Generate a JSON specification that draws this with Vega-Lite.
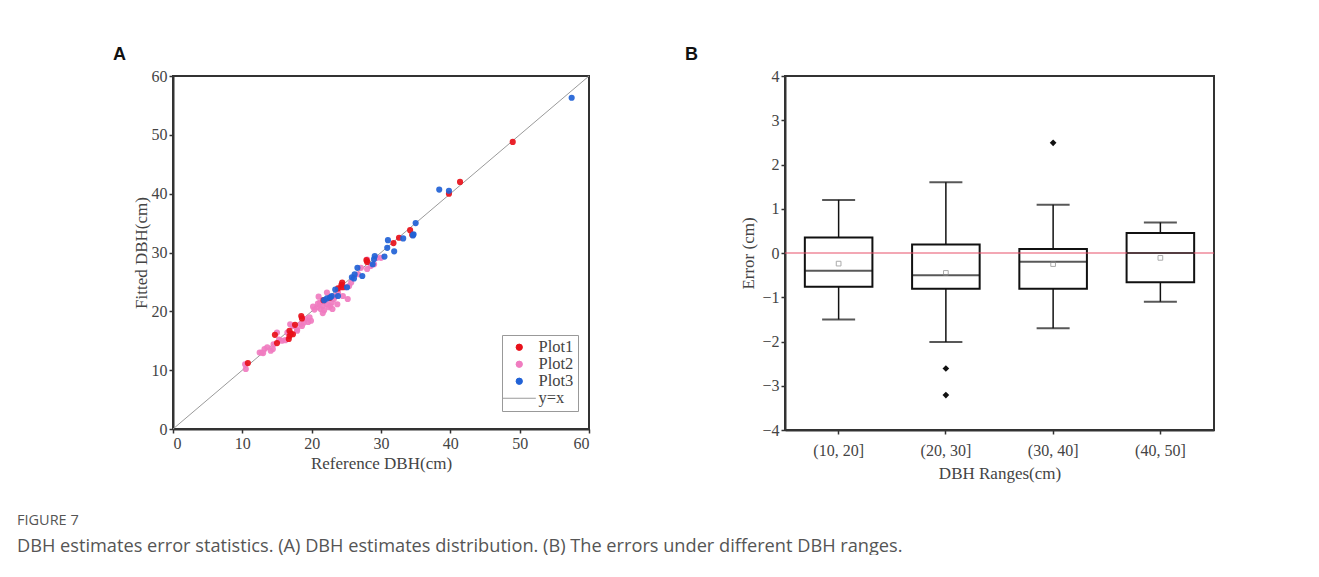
{
  "$schema": "https://vega.github.io/schema/vega-lite/v6.json",
  "padding": {"left": 17, "top": 45, "right": 0, "bottom": 0},
  "background": "white",
  "title": {
    "text": "FIGURE 7",
    "subtitle": "DBH estimates error statistics. (A) DBH estimates distribution. (B) The errors under different DBH ranges.",
    "orient": "bottom",
    "anchor": "start",
    "frame": "group",
    "dx": -156,
    "offset": 32,
    "font": "Open Sans",
    "fontSize": 14.5,
    "fontWeight": "normal",
    "color": "#555555",
    "subtitleFont": "Open Sans",
    "subtitleFontSize": 18.2,
    "subtitleColor": "#555555",
    "subtitlePadding": 9
  },
  "config": {
    "view": {"stroke": "#333333", "strokeWidth": 2},
    "axis": {
      "grid": false,
      "domainColor": "#333333",
      "domainWidth": 2,
      "tickColor": "#333333",
      "tickSize": 4,
      "tickWidth": 1.5,
      "labelFont": "Liberation Serif",
      "labelFontSize": 16,
      "labelColor": "#444444",
      "titleFont": "Liberation Serif",
      "titleFontSize": 17,
      "titleFontWeight": "normal",
      "titleColor": "#444444"
    }
  },
  "spacing": 92,
  "hconcat": [
    {
      "width": 416,
      "height": 353,
      "title": {"text": "A", "anchor": "start", "frame": "group", "dx": -60, "offset": 4, "font": "Liberation Sans", "fontSize": 18, "fontWeight": "bold", "color": "#111111"},
      "layer": [
        {
          "data": {"values": [{"v": 0, "plot": "y=x"}, {"v": 60, "plot": "y=x"}]},
          "mark": {"type": "line", "strokeWidth": 1},
          "encoding": {
            "x": {"field": "v", "type": "quantitative"},
            "y": {"field": "v", "type": "quantitative"},
            "color": {"field": "plot", "type": "nominal"}
          }
        },
        {
          "data": {"values": [
            {"plot": "Plot2", "ref": 10.5, "fit": 10.2}, {"plot": "Plot2", "ref": 10.4, "fit": 11.0}, {"plot": "Plot2", "ref": 12.8, "fit": 13.0}, {"plot": "Plot2", "ref": 13.2, "fit": 13.6}, {"plot": "Plot2", "ref": 13.6, "fit": 13.9}, {"plot": "Plot2", "ref": 14.1, "fit": 13.3}, {"plot": "Plot2", "ref": 14.4, "fit": 13.6}, {"plot": "Plot2", "ref": 15.0, "fit": 16.4}, {"plot": "Plot2", "ref": 15.7, "fit": 15.0}, {"plot": "Plot2", "ref": 16.2, "fit": 15.1}, {"plot": "Plot2", "ref": 16.9, "fit": 17.8}, {"plot": "Plot2", "ref": 17.9, "fit": 16.9}, {"plot": "Plot2", "ref": 18.4, "fit": 17.8}, {"plot": "Plot2", "ref": 18.9, "fit": 18.1}, {"plot": "Plot2", "ref": 19.1, "fit": 18.7}, {"plot": "Plot2", "ref": 19.7, "fit": 19.0}, {"plot": "Plot2", "ref": 19.9, "fit": 18.4}, {"plot": "Plot2", "ref": 20.2, "fit": 20.8}, {"plot": "Plot2", "ref": 20.8, "fit": 20.7}, {"plot": "Plot2", "ref": 21.0, "fit": 22.5}, {"plot": "Plot2", "ref": 21.3, "fit": 20.4}, {"plot": "Plot2", "ref": 21.6, "fit": 20.9}, {"plot": "Plot2", "ref": 21.8, "fit": 20.2}, {"plot": "Plot2", "ref": 22.2, "fit": 21.2}, {"plot": "Plot2", "ref": 22.5, "fit": 20.7}, {"plot": "Plot2", "ref": 22.7, "fit": 20.9}, {"plot": "Plot2", "ref": 22.9, "fit": 21.5}, {"plot": "Plot2", "ref": 22.2, "fit": 23.2}, {"plot": "Plot2", "ref": 23.2, "fit": 22.1}, {"plot": "Plot2", "ref": 23.7, "fit": 21.2}, {"plot": "Plot2", "ref": 23.8, "fit": 23.2}, {"plot": "Plot2", "ref": 24.5, "fit": 22.6}, {"plot": "Plot2", "ref": 25.2, "fit": 22.1}, {"plot": "Plot2", "ref": 25.4, "fit": 24.3}, {"plot": "Plot2", "ref": 25.7, "fit": 24.9}, {"plot": "Plot2", "ref": 27.1, "fit": 27.4}, {"plot": "Plot2", "ref": 28.0, "fit": 27.2}, {"plot": "Plot2", "ref": 28.5, "fit": 27.7}, {"plot": "Plot2", "ref": 29.0, "fit": 28.0}, {"plot": "Plot2", "ref": 29.4, "fit": 29.1}, {"plot": "Plot2", "ref": 30.0, "fit": 29.1}, {"plot": "Plot2", "ref": 28.0, "fit": 28.8}, {"plot": "Plot2", "ref": 12.5, "fit": 13.0}, {"plot": "Plot2", "ref": 14.5, "fit": 14.4}, {"plot": "Plot2", "ref": 16.5, "fit": 16.4}, {"plot": "Plot2", "ref": 17.3, "fit": 17.5}, {"plot": "Plot2", "ref": 17.9, "fit": 16.7}, {"plot": "Plot2", "ref": 18.6, "fit": 17.5}, {"plot": "Plot2", "ref": 19.5, "fit": 18.2}, {"plot": "Plot2", "ref": 20.4, "fit": 20.3}, {"plot": "Plot2", "ref": 21.2, "fit": 21.5}, {"plot": "Plot2", "ref": 21.6, "fit": 19.7}, {"plot": "Plot2", "ref": 22.0, "fit": 21.8}, {"plot": "Plot2", "ref": 23.0, "fit": 20.4}, {"plot": "Plot2", "ref": 23.4, "fit": 22.6}, {"plot": "Plot2", "ref": 24.2, "fit": 24.1}, {"plot": "Plot2", "ref": 24.9, "fit": 24.1}, {"plot": "Plot2", "ref": 26.7, "fit": 26.3}, {"plot": "Plot2", "ref": 13.0, "fit": 12.9}, {"plot": "Plot2", "ref": 15.3, "fit": 15.2}, {"plot": "Plot2", "ref": 20.9, "fit": 21.3},
            {"plot": "Plot1", "ref": 10.8, "fit": 11.2}, {"plot": "Plot1", "ref": 14.7, "fit": 16.0}, {"plot": "Plot1", "ref": 15.0, "fit": 14.6}, {"plot": "Plot1", "ref": 16.7, "fit": 15.3}, {"plot": "Plot1", "ref": 16.8, "fit": 16.7}, {"plot": "Plot1", "ref": 16.8, "fit": 15.8}, {"plot": "Plot1", "ref": 17.0, "fit": 16.2}, {"plot": "Plot1", "ref": 17.3, "fit": 16.1}, {"plot": "Plot1", "ref": 17.6, "fit": 17.7}, {"plot": "Plot1", "ref": 18.5, "fit": 19.2}, {"plot": "Plot1", "ref": 18.6, "fit": 18.8}, {"plot": "Plot1", "ref": 21.7, "fit": 21.9}, {"plot": "Plot1", "ref": 24.3, "fit": 24.5}, {"plot": "Plot1", "ref": 24.4, "fit": 24.9}, {"plot": "Plot1", "ref": 24.5, "fit": 24.1}, {"plot": "Plot1", "ref": 28.0, "fit": 28.4}, {"plot": "Plot1", "ref": 31.8, "fit": 31.6}, {"plot": "Plot1", "ref": 32.6, "fit": 32.5}, {"plot": "Plot1", "ref": 34.2, "fit": 33.8}, {"plot": "Plot1", "ref": 34.5, "fit": 33.0}, {"plot": "Plot1", "ref": 39.8, "fit": 40.0}, {"plot": "Plot1", "ref": 41.4, "fit": 42.0}, {"plot": "Plot1", "ref": 49.0, "fit": 48.8}, {"plot": "Plot1", "ref": 23.8, "fit": 23.9}, {"plot": "Plot1", "ref": 27.9, "fit": 28.7}, {"plot": "Plot1", "ref": 22.6, "fit": 22.3},
            {"plot": "Plot3", "ref": 21.8, "fit": 21.9}, {"plot": "Plot3", "ref": 22.2, "fit": 22.2}, {"plot": "Plot3", "ref": 22.7, "fit": 22.4}, {"plot": "Plot3", "ref": 22.9, "fit": 22.6}, {"plot": "Plot3", "ref": 23.4, "fit": 23.7}, {"plot": "Plot3", "ref": 23.8, "fit": 22.6}, {"plot": "Plot3", "ref": 25.1, "fit": 24.1}, {"plot": "Plot3", "ref": 25.8, "fit": 25.8}, {"plot": "Plot3", "ref": 26.2, "fit": 26.3}, {"plot": "Plot3", "ref": 26.1, "fit": 25.6}, {"plot": "Plot3", "ref": 26.6, "fit": 27.4}, {"plot": "Plot3", "ref": 27.3, "fit": 26.0}, {"plot": "Plot3", "ref": 28.8, "fit": 28.0}, {"plot": "Plot3", "ref": 29.0, "fit": 28.9}, {"plot": "Plot3", "ref": 29.1, "fit": 29.4}, {"plot": "Plot3", "ref": 30.5, "fit": 29.3}, {"plot": "Plot3", "ref": 30.9, "fit": 30.8}, {"plot": "Plot3", "ref": 31.0, "fit": 32.1}, {"plot": "Plot3", "ref": 31.9, "fit": 30.2}, {"plot": "Plot3", "ref": 33.2, "fit": 32.4}, {"plot": "Plot3", "ref": 34.7, "fit": 33.1}, {"plot": "Plot3", "ref": 35.0, "fit": 35.0}, {"plot": "Plot3", "ref": 38.4, "fit": 40.7}, {"plot": "Plot3", "ref": 39.8, "fit": 40.5}, {"plot": "Plot3", "ref": 57.5, "fit": 56.3}, {"plot": "Plot3", "ref": 34.6, "fit": 32.9}
          ]},
          "mark": {"type": "circle", "size": 38, "opacity": 0.92},
          "encoding": {
            "x": {"field": "ref", "type": "quantitative", "scale": {"domain": [0, 60], "nice": false}, "axis": {"values": [0, 10, 20, 30, 40, 50, 60], "title": "Reference DBH(cm)", "titlePadding": 4}},
            "y": {"field": "fit", "type": "quantitative", "scale": {"domain": [0, 60], "nice": false}, "axis": {"values": [0, 10, 20, 30, 40, 50, 60], "title": "Fitted DBH(cm)", "titlePadding": 1}},
            "color": {
              "field": "plot",
              "type": "nominal",
              "scale": {"domain": ["Plot1", "Plot2", "Plot3", "y=x"], "range": ["#e8101a", "#f07cc0", "#2162d6", "#9a9a9a"]},
              "legend": {
                "title": null,
                "orient": "none",
                "legendX": 329,
                "legendY": 259,
                "strokeColor": "#999999",
                "fillColor": "white",
                "padding": 4,
                "symbolSize": 900,
                "symbolOffset": 5,
                "labelOffset": 11,
                "labelFont": "Liberation Serif",
                "labelFontSize": 16.5,
                "labelColor": "#444444",
                "rowPadding": 0,
                "encoding": {
                  "symbols": {
                    "shape": {"value": {"expr": "datum.value === 'y=x' ? 'stroke' : 'circle'"}},
                    "size": {"value": {"expr": "datum.value === 'y=x' ? 1100 : 40"}},
                    "stroke": {"value": {"expr": "datum.value === 'y=x' ? '#9a9a9a' : 'transparent'"}},
                    "strokeWidth": {"value": 1},
                    "fill": {"value": {"expr": "datum.value === 'Plot1' ? '#e8101a' : datum.value === 'Plot2' ? '#f07cc0' : datum.value === 'Plot3' ? '#2162d6' : 'transparent'"}},
                    "opacity": {"value": 1}
                  }
                }
              }
            }
          }
        }
      ]
    },
    {
      "width": 429,
      "height": 354,
      "title": {"text": "B", "anchor": "start", "frame": "group", "dx": -100, "offset": 4, "font": "Liberation Sans", "fontSize": 18, "fontWeight": "bold", "color": "#111111"},
      "layer": [
        {
          "data": {"name": "stats", "values": [
            {"range": "(10, 20]", "lower": -1.5, "q1": -0.76, "median": -0.4, "q3": 0.35, "upper": 1.2, "mean": -0.24},
            {"range": "(20, 30]", "lower": -2.01, "q1": -0.81, "median": -0.5, "q3": 0.19, "upper": 1.6, "mean": -0.45},
            {"range": "(30, 40]", "lower": -1.7, "q1": -0.81, "median": -0.2, "q3": 0.09, "upper": 1.09, "mean": -0.25},
            {"range": "(40, 50]", "lower": -1.1, "q1": -0.66, "median": 0.0, "q3": 0.45, "upper": 0.69, "mean": -0.11}
          ]},
          "layer": [
            {
              "mark": {"type": "rule", "color": "#111111", "strokeWidth": 1.5},
              "encoding": {
                "x": {"field": "range", "type": "nominal", "sort": null, "scale": {"paddingInner": 0, "paddingOuter": 0}, "axis": {"labelAngle": 0, "title": "DBH Ranges(cm)", "labelPadding": 8, "titlePadding": 7}},
                "y": {"field": "lower", "type": "quantitative", "scale": {"domain": [-4, 4], "nice": false}, "axis": {"values": [-4, -3, -2, -1, 0, 1, 2, 3, 4], "title": "Error (cm)", "titlePadding": 4}},
                "y2": {"field": "upper"}
              }
            },
            {
              "mark": {"type": "bar", "fill": "white", "stroke": "#111111", "strokeWidth": 2, "width": {"band": 0.63}},
              "encoding": {
                "x": {"field": "range", "type": "nominal", "sort": null},
                "y": {"field": "q1", "type": "quantitative"},
                "y2": {"field": "q3"}
              }
            }
          ]
        },
        {
          "data": {"values": [{"v": 0}]},
          "mark": {"type": "rule", "color": "#e8506a", "strokeWidth": 1.2},
          "encoding": {"y": {"field": "v", "type": "quantitative"}}
        },
        {
          "data": {"name": "stats"},
          "layer": [
            {
              "mark": {"type": "tick", "color": "#111111", "thickness": 2, "size": 67},
              "encoding": {"x": {"field": "range", "type": "nominal", "sort": null}, "y": {"field": "median", "type": "quantitative"}}
            },
            {
              "mark": {"type": "tick", "color": "#111111", "thickness": 2, "size": 33},
              "encoding": {"x": {"field": "range", "type": "nominal", "sort": null}, "y": {"field": "lower", "type": "quantitative"}}
            },
            {
              "mark": {"type": "tick", "color": "#111111", "thickness": 2, "size": 33},
              "encoding": {"x": {"field": "range", "type": "nominal", "sort": null}, "y": {"field": "upper", "type": "quantitative"}}
            },
            {
              "mark": {"type": "point", "shape": "square", "size": 22, "filled": false, "color": "#888888", "strokeWidth": 1},
              "encoding": {"x": {"field": "range", "type": "nominal", "sort": null}, "y": {"field": "mean", "type": "quantitative"}}
            }
          ]
        },
        {
          "data": {"values": [
            {"range": "(20, 30]", "err": -2.61},
            {"range": "(20, 30]", "err": -3.21},
            {"range": "(30, 40]", "err": 2.49}
          ]},
          "mark": {"type": "point", "shape": "diamond", "size": 45, "filled": true, "color": "#111111", "opacity": 1},
          "encoding": {"x": {"field": "range", "type": "nominal", "sort": null}, "y": {"field": "err", "type": "quantitative"}}
        }
      ]
    }
  ]
}
